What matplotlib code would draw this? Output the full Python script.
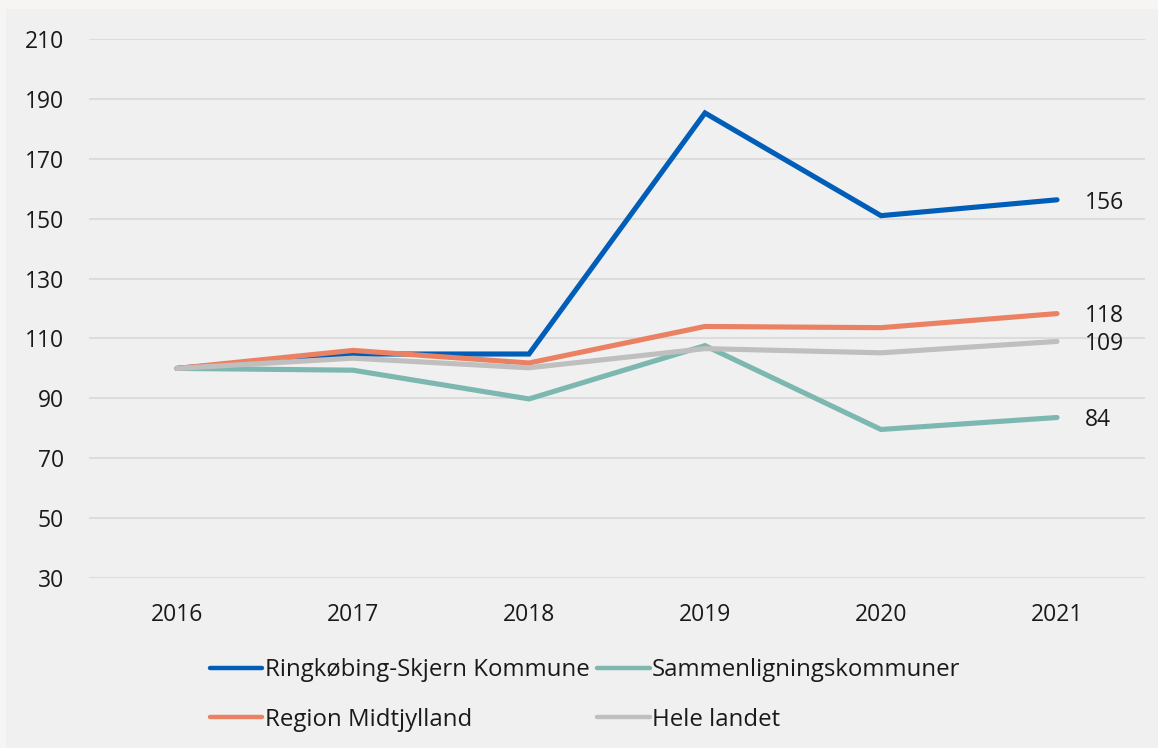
import matplotlib
matplotlib.use("Agg")
import matplotlib.pyplot as plt
from matplotlib.patches import Rectangle

plt.rcParams['font.family'] = ['Open Sans', 'DejaVu Sans']

years = [2016, 2017, 2018, 2019, 2020, 2021]
ringkobing = [100, 104.8, 104.8, 185.3, 151.0, 156.3]
sammenligning = [100, 99.4, 89.8, 107.6, 79.6, 83.6]
region = [100, 106.0, 101.8, 114.0, 113.6, 118.3]
hele_landet = [100, 103.4, 100.2, 106.6, 105.2, 109.0]

series_names = ["Ringkøbing-Skjern Kommune", "Sammenligningskommuner",
                "Region Midtjylland", "Hele landet"]
end_labels = ["156", "84", "118", "109"]
colors = ["#005EB8", "#7DB8B0", "#EB8163", "#BFBFBF"]
yticks = [30, 50, 70, 90, 110, 130, 150, 170, 190, 210]

W, H = 1158, 748
fig = plt.figure(figsize=(W / 100, H / 100), dpi=100, facecolor="#F6F5F3")
fig.patches.append(Rectangle((6 / W, 0), 1 - 6 / W, 1 - 9 / H, transform=fig.transFigure,
                             facecolor="#F0F0F0", edgecolor="none", zorder=-10))

ax = fig.add_axes([89 / W, 1 - 578 / H, (1145 - 89) / W, (578 - 39) / H])
ax.set_facecolor("none")
ax.set_zorder(2)

data = [ringkobing, sammenligning, region, hele_landet]
lines = []
for vals, name, col in zip(data, series_names, colors):
    ln, = ax.plot(years, vals, color=col, lw=3.7, solid_capstyle="round",
                  solid_joinstyle="miter", label=name, zorder=3)
    lines.append(ln)

for i, (vals, lab) in enumerate(zip(data, end_labels)):
    ax.annotate(lab, xy=(years[-1], vals[-1]), xytext=(20, -2),
                textcoords="offset points", ha="left", va="center",
                fontsize=16.5, color="#1A1A1A")

ax.set_xlim(2015.5, 2021.5)
ax.set_ylim(30, 210)
ax.set_yticks(yticks)
ax.set_xticks(years)
ax.set_xticklabels([str(y) for y in years])
ax.grid(axis="y", color="#DCDCDC", lw=1.5, zorder=1)
ax.set_axisbelow(True)
for s in ax.spines.values():
    s.set_visible(False)
ax.tick_params(axis="both", length=0, labelsize=16.5, labelcolor="#1A1A1A")
ax.tick_params(axis="y", pad=18)
ax.tick_params(axis="x", pad=18)

order = [0, 2, 1, 3]
leg = fig.legend([lines[i] for i in order], [series_names[i] for i in order],
                 ncol=2, loc="center", bbox_to_anchor=(585 / W, 1 - 695 / H),
                 frameon=False, fontsize=17.3, handlelength=2.2, handletextpad=0.1,
                 columnspacing=0.3, labelspacing=1.05, labelcolor="#1A1A1A")
leg.set_zorder(3)
for h in leg.legend_handles:
    h.set_linewidth(3.2)

fig.savefig("out.png", dpi=100, facecolor=fig.get_facecolor())
